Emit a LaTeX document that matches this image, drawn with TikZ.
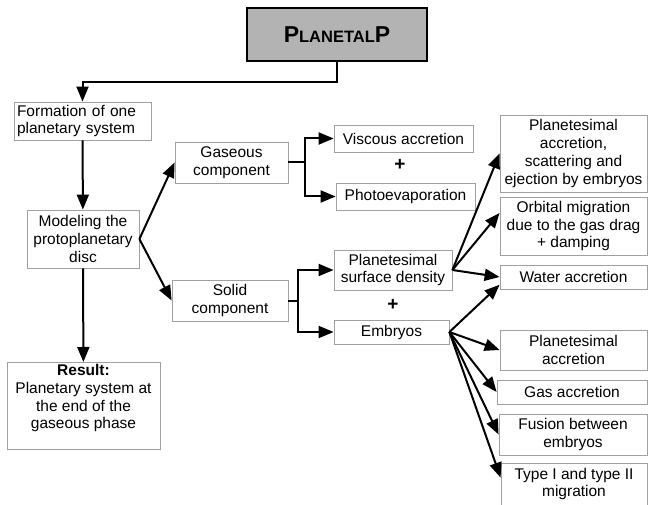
\documentclass[tikz,border=0pt]{standalone}
\usepackage{fontspec}
\setmainfont{Liberation Sans}
\usepackage{tikz}
\usetikzlibrary{arrows.meta}
\definecolor{boxgray}{RGB}{160,160,160}
\definecolor{topgray}{RGB}{179,179,179}

\begin{document}
\begin{tikzpicture}[x=1pt,y=-1pt,
    font=\fontsize{15.5}{17.7}\selectfont,
    box/.style={draw=boxgray,fill=white,line width=0.8pt,align=center,inner sep=2pt},
    arr/.style={-{Triangle[length=15pt,width=12pt]},line width=2pt},
    plus/.style={font=\fontsize{19}{19}\selectfont\bfseries}]
  \useasboundingbox (0,0) rectangle (648,505);
  \node (top) [draw=black,line width=2.2pt,fill=topgray,minimum width=180pt,minimum height=53pt]
    at (337,34.5) {\bfseries{\fontsize{23}{23}\selectfont P}{\fontsize{16.5}{16.5}\selectfont LANETAL}{\fontsize{23}{23}\selectfont P}};
  \node (form)  [box,align=left,text width=131pt,inner sep=3pt,minimum height=36pt] at (82.5,121) {Formation of one\\planetary system};
  \node (model) [box,minimum width=112pt,minimum height=58pt] at (83,239) {Modeling the\\protoplanetary\\disc};
  \node (res)   [box,anchor=north,minimum width=153pt,text depth=19pt] at (83.5,362)
    {\textbf{Result:}\\Planetary system at\\the end of the\\gaseous phase};
  \node (gas)   [box,minimum width=113pt,minimum height=41pt] at (231.5,162.5) {Gaseous\\component};
  \node (sol)   [box,minimum width=116pt,minimum height=41pt] at (230,300.5) {Solid\\component};
  \node (visc)  [box,minimum width=139pt,minimum height=27pt] at (403.5,138.5) {Viscous accretion};
  \node (photo) [box,minimum width=139pt,minimum height=27pt] at (405.5,196.5) {Photoevaporation};
  \node (psd)   [box,minimum width=118pt,minimum height=40pt] at (393,270) {Planetesimal\\surface density};
  \node (emb)   [box,minimum width=115pt,minimum height=24pt] at (391.5,332) {Embryos};
  \node [plus] at (400,165) {+};
  \node [plus] at (393,305) {+};
  \node (scat)  [box,minimum width=147pt,minimum height=77pt] at (573.5,153.5) {Planetesimal\\accretion,\\scattering and\\ejection by embryos};
  \node (orb)   [box,minimum width=147pt,minimum height=58pt] at (573.5,226) {Orbital migration\\due to the gas drag\\+ damping};
  \node (water) [box,minimum width=147pt,minimum height=24pt] at (573.5,277) {Water accretion};
  \node (pacc)  [box,minimum width=147pt,minimum height=40pt] at (573.5,350) {Planetesimal\\accretion};
  \node (gacc)  [box,minimum width=150pt,minimum height=24pt] at (572,392) {Gas accretion};
  \node (fus)   [box,minimum width=148pt,minimum height=41pt] at (573,434.5) {Fusion between\\embryos};
  \node (mig)   [box,minimum width=146pt,minimum height=42pt] at (574,484) {Type I and type II\\migration};

  \draw[arr] (top.south) -- ++(0,20) -| (form.north);
  \path[arr]
    (form)  edge (model)
    (model) edge (res)
    (model.east) edge (gas.west)
    (model.east) edge (sol.west);
  \draw[arr] (gas.east) -- ++(17,0) |- (visc.west);
  \draw[arr] (gas.east) -- ++(17,0) |- (photo.west);
  \draw[arr] (sol.east) -- ++(10,0) |- (psd.west);
  \draw[arr] (sol.east) -- ++(10,0) |- (emb.west);
  \path[arr]
    (psd.east) edge (scat.west)
    (psd.east) edge (orb.170)
    (psd.east) edge (water.west)
    (emb.east) edge (water.186)
    (emb.east) edge (pacc.west)
    (emb.east) edge (gacc.west)
    (emb.east) edge (fus.west)
    (emb.east) edge (mig.175);
\end{tikzpicture}
\end{document}
